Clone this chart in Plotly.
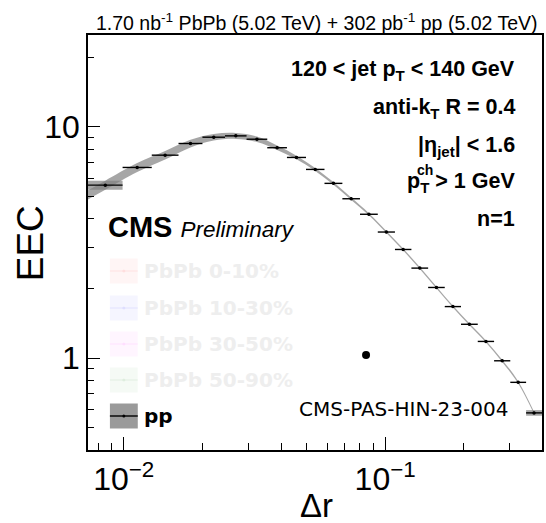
import numpy as np
import plotly.graph_objects as go

# ---- data ----
bin_edges = [0.0073, 0.0099, 0.0128, 0.0162, 0.0200, 0.0244, 0.0295, 0.0354, 0.0421,
             0.0498, 0.0586, 0.0686, 0.0801, 0.0937, 0.109, 0.126, 0.146, 0.169,
             0.195, 0.226, 0.261, 0.301, 0.346, 0.398]
eec_pp = [5.60, 6.68, 7.55, 8.48, 9.03, 9.15, 8.85, 8.13, 7.38, 6.55, 5.70, 4.89,
          4.19, 3.51, 2.95, 2.45, 2.02, 1.67, 1.40, 1.18, 0.973, 0.785, 0.579]
syst_rel = [0.046, 0.045, 0.042, 0.038, 0.033, 0.030, 0.027, 0.022, 0.018, 0.015,
            0.013, 0.012, 0.011, 0.010, 0.010, 0.010, 0.010, 0.010, 0.010, 0.010,
            0.011, 0.012, 0.028]
stat_rel = [0.012] * 23
stray_x = [0.0845]
stray_y = [1.03]

legend_labels = ["PbPb 0-10%", "PbPb 10-30%", "PbPb 30-50%", "PbPb 50-90%", "pp"]
legend_fill = ["rgba(255,200,200,0.18)", "rgba(200,200,255,0.18)", "rgba(255,200,255,0.18)",
               "rgba(200,230,200,0.18)", "#9a9a9a"]
legend_line = ["rgba(255,150,150,0.15)", "rgba(150,150,255,0.15)", "rgba(255,150,255,0.15)",
               "rgba(150,200,150,0.15)", "black"]
legend_text_color = ["#eeeeee", "#eeeeee", "#eeeeee", "#eeeeee", "black"]

edges = np.array(bin_edges)
y = np.array(eec_pp)
s = np.array(syst_rel)
xc = np.sqrt(edges[:-1] * edges[1:])

fig = go.Figure()

# smooth systematic band (extrapolated in log-log to the left frame edge)
lx, ly = np.log10(xc), np.log10(y)
sl = (ly[1] - ly[0]) / (lx[1] - lx[0])
y0 = 10 ** (ly[0] + sl * (np.log10(edges[0]) - lx[0]))
bx = np.concatenate([[edges[0]], xc])
by = np.concatenate([[y0], y])
bs = np.concatenate([[s[0]], s])
bs[-1] = s[-2]
band_col = "rgba(128,128,128,0.70)"
fig.add_trace(go.Scatter(x=bx, y=by * (1 - bs), mode="lines", line=dict(width=0, shape="spline"),
                         hoverinfo="skip", showlegend=False))
fig.add_trace(go.Scatter(x=bx, y=by * (1 + bs), mode="lines", line=dict(width=0, shape="spline"),
                         fill="tonexty", fillcolor=band_col, hoverinfo="skip", showlegend=False))

# boxes for first and last bins
for i in (0, len(y) - 1):
    lo, hi = edges[i], edges[i + 1]
    fig.add_trace(go.Scatter(x=[lo, hi, hi, lo, lo],
                             y=[y[i] * (1 - s[i]), y[i] * (1 - s[i]), y[i] * (1 + s[i]), y[i] * (1 + s[i]), y[i] * (1 - s[i])],
                             mode="lines", line=dict(width=0), fill="toself", fillcolor=band_col,
                             hoverinfo="skip", showlegend=False))

# data points
fig.add_trace(go.Scatter(
    x=xc, y=y, mode="markers",
    marker=dict(color="black", size=3.5),
    error_x=dict(type="data", symmetric=False, array=edges[1:] - xc, arrayminus=xc - edges[:-1],
                 color="black", thickness=1.4, width=0),
    error_y=dict(type="data", array=y * np.array(stat_rel), color="black", thickness=1.4, width=0),
    showlegend=False))

# stray marker
fig.add_trace(go.Scatter(x=stray_x, y=stray_y, mode="markers",
                         marker=dict(color="black", size=8), showlegend=False))

W, H = 546, 523
L, R, T, B = 88, 2, 35, 73
pw, ph = W - L - R, H - T - B


def px(xp):
    return (xp - L) / pw


def py(yp):
    return (H - B - yp) / ph


ann = []


def add_text(text, x, y, xanchor, yanchor, family, size, color="black", **kw):
    ann.append(dict(text=text, x=x, y=y, xref="paper", yref="paper", showarrow=False,
                    xanchor=xanchor, yanchor=yanchor,
                    font=dict(family=family, size=size, color=color), **kw))


ARIAL = "Liberation Sans, Arial"
add_text("1.70 nb<sup>-1</sup> PbPb (5.02 TeV) + 302 pb<sup>-1</sup> pp (5.02 TeV)",
         px(542), 1.0, "right", "bottom", ARIAL, 19.5, yshift=-1)
info = ["<b>120 < jet p<sub>T</sub> < 140 GeV</b>", "<b>anti-k<sub>T</sub> R = 0.4</b>",
        "<b>|η<sub>jet</sub>| < 1.6</b>", "<b>p<sub>T</sub> > 1 GeV</b>", "<b>n=1</b>"]
info_y = [70, 108, 146, 182, 219]
for t, yy in zip(info, info_y):
    add_text(t, px(519), py(yy), "right", "middle", ARIAL, 21.5)
add_text("<b>ch</b>", px(416), py(170), "left", "middle", ARIAL, 14)
add_text("<b>CMS</b> <i><span style='font-size:22.5px'>Preliminary</span></i>",
         px(106), py(227), "left", "middle", ARIAL, 29)
add_text("CMS-PAS-HIN-23-004", px(512), py(409), "right", "middle", "DejaVu Sans", 20)
add_text("EEC", px(31), py(243), "center", "middle", ARIAL, 37, textangle=-90)
add_text("Δr", px(318), py(505), "center", "middle", ARIAL, 33)

shapes = []
leg_y = [271, 308, 344, 380, 416]
for lab, fc, lc, tc, yy in zip(legend_labels, legend_fill, legend_line, legend_text_color, leg_y):
    shapes.append(dict(type="rect", xref="paper", yref="paper", x0=px(110), x1=px(138),
                       y0=py(yy + 12.5), y1=py(yy - 12.5), fillcolor=fc, line=dict(width=0), layer="above"))
    shapes.append(dict(type="line", xref="paper", yref="paper", x0=px(110), x1=px(138),
                       y0=py(yy), y1=py(yy), line=dict(color=lc, width=1.4), layer="above"))
    shapes.append(dict(type="circle", xref="paper", yref="paper", x0=px(122.5), x1=px(125.5),
                       y0=py(yy + 1.5), y1=py(yy - 1.5), fillcolor=lc, line=dict(width=0), layer="above"))
    add_text("<b>" + lab + "</b>", px(142), py(yy), "left", "middle", "DejaVu Sans", 20, color=tc)

xminor = [v * 10 ** e for e in (-3, -2, -1) for v in range(2, 10)]
yminor = [v * 10 ** e for e in (-1, 0, 1) for v in range(2, 10)]

fig.update_layout(
    width=W, height=H, margin=dict(l=L, r=R, t=T, b=B),
    paper_bgcolor="white", plot_bgcolor="white",
    annotations=ann, shapes=shapes, showlegend=False,
    xaxis=dict(type="log", range=[np.log10(0.0073), np.log10(0.398)],
               tickvals=[0.01, 0.1], ticktext=["10<sup>−2</sup>", "10<sup>−1</sup>"],
               ticks="inside", ticklen=13, tickwidth=1.2, tickcolor="black",
               minor=dict(tickvals=xminor, ticks="inside", ticklen=7, tickwidth=1.2, tickcolor="black"),
               showline=True, linecolor="black", linewidth=1.5, mirror=True, showgrid=False,
               zeroline=False, tickfont=dict(family=ARIAL, size=32, color="black")),
    yaxis=dict(type="log", range=[np.log10(0.4), np.log10(25)],
               tickvals=[1, 10], ticktext=["1", "10"],
               ticks="inside", ticklen=12, tickwidth=1.2, tickcolor="black",
               minor=dict(tickvals=yminor, ticks="inside", ticklen=6, tickwidth=1.2, tickcolor="black"),
               showline=True, linecolor="black", linewidth=1.5, mirror=True, showgrid=False,
               zeroline=False, tickfont=dict(family=ARIAL, size=32, color="black")),
)

fig.write_html("out.html")
